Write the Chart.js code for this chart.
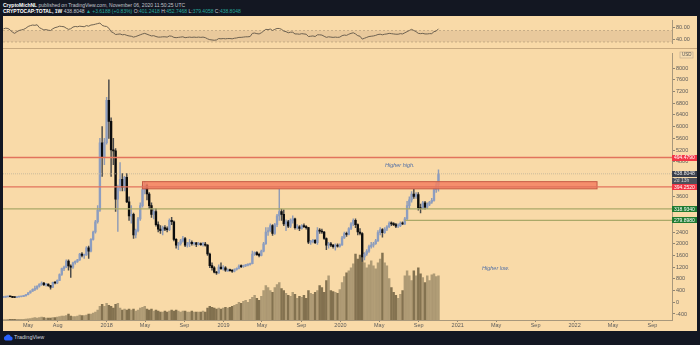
<!DOCTYPE html>
<html>
<head>
<meta charset="utf-8">
<title>CRYPTOCAP:TOTAL, 1W</title>
<script src="https://cdn.jsdelivr.net/npm/chart.js@4.4.1/dist/chart.umd.min.js"></script>
<style>
  body { margin: 0; width: 700px; height: 345px; background: #131722; position: relative; overflow: hidden; font-family: "Liberation Sans", Arial, sans-serif; }
  .hdr { position: absolute; left: 3px; font-size: 5px; line-height: 6px; color: #c3c6ce; white-space: nowrap; }
  .hdr b { color: #ffffff; }
  .up { color: #26a69a; }
  #pane { position: absolute; left: 3px; top: 16px; width: 694px; height: 315px; background: #f9daa8; }
  #rsiChart { position: absolute; left: 3px; top: 16px; }
  #sep { position: absolute; left: 3px; top: 48px; width: 694px; height: 1px; background: #c9ab80; }
  #mainChart { position: absolute; left: 3px; top: 49px; }
  #logo { position: absolute; left: 3px; top: 333px; font-size: 5.5px; line-height: 8px; color: #d1d4dc; display: flex; align-items: center; gap: 1px; }
</style>
</head>
<body>
<div class="hdr" style="top:2px"><b>CryptoMichNL</b> published on TradingView.com, November 06, 2020 11:50:25 UTC</div>
<div class="hdr" style="top:8px"><b>CRYPTOCAP:TOTAL, 1W</b> 438.8048 <span class="up">&#9650; +3.6188 (+0.83%)</span> O:<span class="up">401.2418</span> H:<span class="up">452.7468</span> L:<span class="up">379.4058</span> C:<span class="up">438.8048</span></div>
<div id="pane"></div>
<canvas id="rsiChart" width="694" height="32"></canvas>
<div id="sep"></div>
<canvas id="mainChart" width="694" height="282"></canvas>
<div id="logo"><svg width="10" height="7" viewBox="0 0 20 14"><path d="M5 13h10a4 4 0 0 0 .5-8 5.5 5.5 0 0 0-10.3-.8A4.6 4.6 0 0 0 5 13z" fill="#2962ff"/></svg><span>TradingView</span></div>
<script>
// weekly bars; x is counted in days from 1 Jan 2018, first bar is the week of 13 Feb 2017
const firstWeekDay = -322;

const opens = [
  17, 17.5, 18.5, 19.5, 19, 17, 16.5, 18, 19, 20,
  22, 26, 32, 38, 44, 47, 55, 62, 66, 60,
  62, 57, 52, 68, 66, 75, 95, 115, 120, 141,
  124, 120, 135, 140, 145, 165, 160, 162, 186, 175,
  215, 240, 275, 315, 545, 495, 545, 690, 618, 520,
  517, 352, 390, 420, 393, 427, 343, 295, 300, 230,
  245, 285, 330, 385, 400, 370, 330, 300, 310, 265,
  250, 245, 255, 250, 248, 280, 275, 215, 195, 200,
  210, 218, 195, 200, 205, 200, 203, 198, 200, 197,
  199, 195, 165, 125, 118, 103, 100, 120, 115, 118,
  110, 110, 108, 106, 112, 116, 124, 122, 125, 127,
  129, 132, 165, 170, 163, 160, 175, 200, 240, 245,
  262, 235, 265, 295, 310, 300, 268, 275, 260, 280,
  285, 255, 258, 252, 262, 258, 255, 205, 208, 212,
  204, 245, 243, 240, 218, 195, 200, 195, 190, 194,
  192, 196, 220, 235, 232, 252, 268, 280, 265, 240,
  235, 155, 165, 175, 190, 195, 200, 210, 238, 248,
  238, 250, 258, 270, 268, 265, 260, 262, 270, 268,
  285, 330, 350, 370, 362, 368, 322, 320, 340, 325,
  335, 342, 348, 385, 401.2418
];
const highs = [
  18, 19, 20, 20.5, 19.5, 18, 18.5, 19.5, 20.5, 22.5,
  26.5, 33, 39, 46, 55, 56, 63, 70, 68, 64,
  63, 58, 69, 71, 77, 97, 117, 124, 145, 145,
  128, 137, 142, 147, 167, 170, 165, 190, 192, 218,
  243, 280, 330, 560, 600, 560, 700, 760, 630, 560,
  525, 400, 477, 440, 430, 440, 360, 330, 305, 250,
  290, 340, 400, 412, 405, 375, 340, 320, 320, 275,
  262, 260, 262, 258, 285, 290, 278, 218, 205, 215,
  225, 222, 205, 215, 210, 205, 205, 205, 203, 205,
  205, 197, 168, 135, 122, 106, 128, 135, 125, 122,
  114, 113, 112, 114, 118, 128, 128, 127, 129, 131,
  134, 175, 172, 173, 168, 178, 205, 255, 255, 268,
  265, 270, 300, 386, 318, 316, 282, 280, 285, 295,
  288, 265, 262, 265, 268, 262, 256, 212, 215, 214,
  255, 252, 250, 242, 220, 205, 205, 198, 200, 200,
  200, 225, 240, 240, 255, 272, 285, 285, 268, 252,
  238, 170, 180, 195, 205, 205, 215, 245, 255, 252,
  255, 262, 275, 275, 272, 270, 268, 275, 275, 290,
  345, 360, 378, 386, 375, 375, 335, 345, 345, 340,
  345, 355, 390, 410, 452.7468
];
const lows = [
  16.5, 17, 18, 18.5, 15.5, 15.5, 16, 17.5, 18.5, 19.5,
  21.5, 25.5, 31, 37, 40, 44, 52, 58, 57, 55,
  54, 45, 50, 63, 64, 74, 92, 108, 118, 110,
  85, 116, 130, 136, 143, 155, 150, 160, 150, 172,
  212, 236, 270, 310, 430, 470, 540, 560, 430, 470,
  310, 242, 380, 380, 380, 340, 280, 270, 218, 220,
  240, 280, 325, 370, 350, 320, 290, 285, 260, 240,
  235, 230, 245, 240, 245, 265, 210, 185, 180, 195,
  205, 190, 188, 190, 195, 195, 190, 195, 194, 192,
  192, 160, 118, 110, 100, 95, 99, 112, 110, 105,
  106, 106, 102, 104, 110, 114, 118, 119, 122, 124,
  127, 131, 160, 160, 155, 158, 172, 198, 228, 240,
  228, 232, 258, 280, 280, 262, 245, 255, 255, 270,
  250, 250, 245, 250, 255, 250, 200, 198, 203, 200,
  198, 235, 235, 215, 180, 185, 190, 185, 178, 188,
  188, 194, 218, 225, 230, 248, 262, 255, 230, 230,
  140, 145, 160, 170, 185, 188, 198, 208, 230, 222,
  235, 245, 255, 262, 262, 255, 255, 258, 265, 265,
  280, 320, 342, 355, 355, 315, 305, 318, 318, 320,
  330, 338, 345, 375, 379.4058
];
const closes = [
  17.5, 18.5, 19.5, 19, 17, 16.5, 18, 19, 20, 22,
  26, 32, 38, 44, 47, 55, 62, 66, 60, 62,
  57, 52, 68, 66, 75, 95, 115, 120, 141, 124,
  120, 135, 140, 145, 165, 160, 162, 186, 175, 215,
  240, 275, 315, 545, 495, 545, 690, 618, 520, 517,
  352, 390, 420, 393, 427, 343, 295, 300, 230, 245,
  285, 330, 385, 400, 370, 330, 300, 310, 265, 250,
  245, 255, 250, 248, 280, 275, 215, 195, 200, 210,
  218, 195, 200, 205, 200, 203, 198, 200, 197, 199,
  195, 165, 125, 118, 103, 100, 120, 115, 118, 110,
  110, 108, 106, 112, 116, 124, 122, 125, 127, 129,
  132, 165, 170, 163, 160, 175, 200, 240, 245, 262,
  235, 265, 295, 310, 300, 268, 275, 260, 280, 285,
  255, 258, 252, 262, 258, 255, 205, 208, 212, 204,
  245, 243, 240, 218, 195, 200, 195, 190, 194, 192,
  196, 220, 235, 232, 252, 268, 280, 265, 240, 235,
  155, 165, 175, 190, 195, 200, 210, 238, 248, 238,
  250, 258, 270, 268, 265, 260, 262, 270, 268, 285,
  330, 350, 370, 362, 368, 322, 320, 340, 325, 335,
  342, 348, 385, 401.2418, 438.8048
];
const volumes = [
  0.5, 0.5, 0.6, 0.6, 0.7, 0.6, 0.6, 0.7, 0.8, 0.8,
  1, 1.2, 1.5, 2, 2.5, 2, 2.5, 3, 2.5, 2,
  2, 2, 2.5, 2.5, 3, 3.5, 4, 4, 4.5, 6,
  4, 3.5, 3.5, 4, 5, 4.5, 4.5, 5, 6, 6,
  7, 8, 10, 14, 16, 14, 17, 15, 14, 12,
  16, 17, 12, 10, 11, 10, 11, 10, 11, 9,
  10, 12, 13, 14, 11, 10, 11, 9, 10, 9,
  8, 8, 9, 8, 9, 10, 9, 10, 9, 8,
  9, 9, 8, 8, 9, 8, 8, 8, 8, 9,
  8, 12, 14, 13, 12, 11, 12, 11, 12, 13,
  12, 13, 14, 15, 16, 18, 17, 19, 20, 18,
  21, 23, 25, 22, 20, 24, 30, 35, 33, 30,
  28, 33, 36, 38, 32, 30, 27, 25, 24, 28,
  26, 22, 24, 23, 25, 22, 30, 27, 26, 28,
  30, 35, 33, 28, 40, 45, 30, 29, 28, 27,
  31, 38, 44, 48, 50, 53, 57, 67, 62, 66,
  68, 58, 53, 56, 60, 55, 52, 58, 62, 68,
  58, 55, 42, 33, 28, 25, 22, 26, 30, 45,
  50, 45, 40, 50, 45, 53, 47, 43, 38, 45,
  40, 46, 47, 44, 45
];
const rsi = [
  76, 78, 77, 72, 64, 60, 66, 70, 72, 74,
  78, 84, 87, 89, 88, 90, 80, 76, 72, 73,
  71, 70, 76, 80, 82, 85, 84, 83, 78, 74,
  76, 82, 84, 83, 85, 84, 83, 87, 85, 89,
  90, 92, 94, 96, 88, 85, 84, 78, 66, 62,
  56, 57, 58, 55, 56, 53, 51, 50, 47, 49,
  52, 55, 58, 60, 57, 54, 51, 52, 49, 47,
  47, 48, 48, 47, 51, 50, 46, 45, 46, 47,
  48, 45, 46, 47, 46, 47, 46, 47, 46, 47,
  45, 41, 38, 37, 36, 37, 42, 41, 42, 41,
  42, 42, 41, 43, 44, 46, 46, 47, 48, 48,
  49, 60, 61, 59, 58, 62, 68, 74, 73, 75,
  70, 74, 77, 77, 74, 68, 66, 62, 64, 64,
  58, 58, 57, 59, 58, 57, 49, 50, 51, 49,
  55, 55, 54, 50, 46, 48, 47, 46, 47, 46,
  47, 52, 54, 53, 57, 60, 62, 58, 52, 50,
  40, 43, 46, 49, 50, 51, 53, 56, 57, 55,
  57, 58, 60, 59, 58, 57, 57, 59, 58, 62,
  66, 70, 74, 70, 66, 60, 59, 60, 58, 58,
  59, 59, 66, 68, 76
];

const xTickDays = [-245, -153, 0, 120, 243, 365, 485, 608, 730, 851, 974, 1096, 1216, 1339, 1461, 1581, 1704];
const xTickLabels = ['May', 'Aug', '2018', 'May', 'Sep', '2019', 'May', 'Sep', '2020', 'May', 'Sep', '2021', 'May', 'Sep', '2022', 'May', 'Sep'];
const yTickValues = [800, 760, 720, 680, 640, 600, 560, 520, 480, 440, 400, 360, 320, 280, 240, 200, 160, 120, 80, 40, 0, -40];
const yTickLabels = ['8000', '7600', '7200', '6800', '6400', '6000', '5600', '5200', '4800', '4400', '4000', '3600', '3200', '2800', '2400', '2000', '1600', '1200', '800', '400', '0', '-400'];
const rsiTickValues = [80, 40];
const rsiTickLabels = ['80.00', '40.00'];
const rsiBand = [30, 70];

// drawn levels and the resistance zone
const levelValues = [494.479, 394.252, 318.934, 279.898];
const levelLabels = ['494.4790', '394.2520', '318.9340', '279.8980'];
const levelFromDay = [null, null, null, 931];
const lastPrice = 438.8048;
const lastPriceLabel = '438.8048';
const barCountdown = '2d 13h';
const zonePrices = [387.5, 412];
const zoneDays = [112, 1531];

const xMin = -323.5, xMax = 1765;
const yMin = -60.5, yMax = 850.4;
const fontFamily = '"Liberation Sans", Arial, sans-serif';
Chart.defaults.font.family = fontFamily;

const xs = closes.map((c, i) => firstWeekDay + 7 * i);
const isUp = closes.map((c, i) => c >= opens[i]);

// RSI pane ------------------------------------------------------------
const rsiBandPlugin = {
  id: 'rsiBand',
  beforeDatasetsDraw(chart) {
    const { ctx, chartArea: a, scales: { y } } = chart;
    const top = y.getPixelForValue(rsiBand[1]);
    const bot = y.getPixelForValue(rsiBand[0]);
    ctx.save();
    ctx.fillStyle = '#e9c99c';
    ctx.fillRect(a.left, top, a.right - a.left, bot - top);
    ctx.strokeStyle = '#b59d7b';
    ctx.lineWidth = 0.7;
    ctx.setLineDash([2, 2]);
    [top, bot].forEach(py => {
      ctx.beginPath();
      ctx.moveTo(a.left, py);
      ctx.lineTo(a.right, py);
      ctx.stroke();
    });
    ctx.restore();
  }
};

new Chart(document.getElementById('rsiChart'), {
  type: 'line',
  data: {
    datasets: [{
      data: rsi.map((v, i) => ({ x: xs[i], y: v })),
      borderColor: '#6e6251',
      borderWidth: 1,
      pointRadius: 0,
      tension: 0
    }]
  },
  options: {
    responsive: false,
    animation: false,
    events: [],
    layout: { padding: 0 },
    plugins: { legend: { display: false }, tooltip: { enabled: false } },
    scales: {
      x: { type: 'linear', display: false, min: xMin, max: xMax },
      y: {
        position: 'right',
        min: 24,
        max: 105.5,
        grid: { drawOnChartArea: false, tickLength: 3, color: '#8f8470' },
        border: { display: true, color: '#a8987c' },
        ticks: {
          padding: 1,
          color: '#5a5a5a',
          font: { size: 5.5 },
          callback: (v, i) => rsiTickLabels[i]
        },
        afterBuildTicks: s => { s.ticks = rsiTickValues.map(v => ({ value: v })); },
        afterFit: s => { s.width = 25; }
      }
    }
  },
  plugins: [rsiBandPlugin]
});

// Price pane ----------------------------------------------------------
function tag(ctx, left, cy, text, bg, fg) {
  ctx.fillStyle = bg;
  ctx.fillRect(left, Math.round(cy - 3), 25, 6);
  ctx.fillStyle = fg;
  ctx.font = '5px ' + fontFamily;
  ctx.textBaseline = 'middle';
  ctx.textAlign = 'left';
  ctx.fillText(text, left + 2, cy + 0.3);
}

const overlayPlugin = {
  id: 'overlay',
  afterDatasetsDraw(chart) {
    const { ctx, chartArea: a, scales: { x, y } } = chart;
    ctx.save();
    ctx.beginPath();
    ctx.rect(a.left, a.top, a.right - a.left, a.bottom - a.top);
    ctx.clip();

    // last price line
    const lp = y.getPixelForValue(lastPrice);
    ctx.strokeStyle = '#bfb19a';
    ctx.lineWidth = 0.8;
    ctx.setLineDash([1, 1]);
    ctx.beginPath();
    ctx.moveTo(a.left, lp);
    ctx.lineTo(a.right, lp);
    ctx.stroke();
    ctx.setLineDash([]);

    // resistance zone
    const zx1 = x.getPixelForValue(zoneDays[0]);
    const zx2 = x.getPixelForValue(zoneDays[1]);
    const zy1 = y.getPixelForValue(zonePrices[1]);
    const zy2 = y.getPixelForValue(zonePrices[0]);
    ctx.fillStyle = 'rgba(244,128,98,0.85)';
    ctx.fillRect(zx1, zy1, zx2 - zx1, zy2 - zy1);
    ctx.strokeStyle = '#c45a44';
    ctx.lineWidth = 1;
    ctx.strokeRect(zx1, zy1, zx2 - zx1, zy2 - zy1);

    // horizontal levels
    levelValues.forEach((v, i) => {
      const py = y.getPixelForValue(v);
      const px = levelFromDay[i] === null ? a.left : x.getPixelForValue(levelFromDay[i]);
      ctx.strokeStyle = i < 2 ? '#e2735c' : '#aaa868';
      ctx.lineWidth = 1.4;
      ctx.beginPath();
      ctx.moveTo(px, py);
      ctx.lineTo(a.right, py);
      ctx.stroke();
    });

    // notes
    ctx.font = 'italic 5.5px ' + fontFamily;
    ctx.fillStyle = '#4f6ea6';
    ctx.textBaseline = 'middle';
    ctx.fillText('Higher high.', x.getPixelForValue(869), y.getPixelForValue(467));
    ctx.fillText('Higher low.', x.getPixelForValue(1172), y.getPixelForValue(117));
    ctx.restore();
  },
  afterDraw(chart) {
    const { ctx, chartArea: a, scales: { y } } = chart;
    ctx.save();
    // currency box at the top of the axis
    ctx.fillStyle = '#f6dcb0';
    ctx.strokeStyle = '#b8a58a';
    ctx.lineWidth = 0.6;
    ctx.fillRect(a.right + 8, 3, 13, 6);
    ctx.strokeRect(a.right + 8, 3, 13, 6);
    ctx.fillStyle = '#555';
    ctx.font = '4.5px ' + fontFamily;
    ctx.textBaseline = 'middle';
    ctx.fillText('USD', a.right + 10, 6.2);

    tag(ctx, a.right, y.getPixelForValue(levelValues[0]), levelLabels[0], '#f23645', '#fff');
    const lp = y.getPixelForValue(lastPrice);
    tag(ctx, a.right, lp, lastPriceLabel, '#3b3f4c', '#e6e6e6');
    tag(ctx, a.right, lp + 7, barCountdown, '#4d505a', '#d5d5d5');
    tag(ctx, a.right, y.getPixelForValue(levelValues[1]), levelLabels[1], '#f23645', '#fff');
    tag(ctx, a.right, y.getPixelForValue(levelValues[2]), levelLabels[2], '#1e7b31', '#fff');
    tag(ctx, a.right, y.getPixelForValue(levelValues[3]), levelLabels[3], '#1e7b31', '#fff');
    ctx.restore();
  }
};

const upBody = '#8c9dc0', downBody = '#0c0c0c';
const upWick = '#909cb6', downWick = '#4a4a4a';
const upVol = 'rgba(150,133,100,0.75)', downVol = 'rgba(110,95,65,0.85)';

new Chart(document.getElementById('mainChart'), {
  type: 'bar',
  data: {
    datasets: [
      {
        label: 'Volume',
        yAxisID: 'yv',
        data: volumes.map((v, i) => ({ x: xs[i], y: v })),
        backgroundColor: isUp.map(u => u ? upVol : downVol),
        barThickness: 1.8,
        grouped: false,
        order: 3
      },
      {
        label: 'Wicks',
        yAxisID: 'y',
        data: highs.map((h, i) => ({ x: xs[i], y: [lows[i], h] })),
        backgroundColor: isUp.map(u => u ? upWick : downWick),
        barThickness: 0.8,
        grouped: false,
        order: 2
      },
      {
        label: 'Bodies',
        yAxisID: 'y',
        data: closes.map((c, i) => ({ x: xs[i], y: [opens[i], c] })),
        backgroundColor: isUp.map(u => u ? upBody : downBody),
        barThickness: 1.7,
        minBarLength: 1,
        grouped: false,
        order: 1
      }
    ]
  },
  options: {
    responsive: false,
    animation: false,
    events: [],
    layout: { padding: 0 },
    plugins: { legend: { display: false }, tooltip: { enabled: false } },
    scales: {
      x: {
        type: 'linear',
        min: xMin,
        max: xMax,
        offset: false,
        grid: { offset: false, drawOnChartArea: false, tickLength: 2, color: '#8f8470' },
        border: { display: true, color: '#a8987c' },
        ticks: {
          autoSkip: false,
          maxRotation: 0,
          padding: 0,
          color: '#5a5a5a',
          font: { size: 5.5 },
          callback: (v, i) => xTickLabels[i]
        },
        afterBuildTicks: s => { s.ticks = xTickDays.map(v => ({ value: v })); },
        afterFit: s => { s.height = 11; }
      },
      y: {
        position: 'right',
        min: yMin,
        max: yMax,
        grid: { drawOnChartArea: false, tickLength: 3, color: '#8f8470' },
        border: { display: true, color: '#a8987c' },
        ticks: {
          padding: 1,
          color: '#5a5a5a',
          font: { size: 5.5 },
          callback: (v, i) => yTickLabels[i]
        },
        afterBuildTicks: s => { s.ticks = yTickValues.map(v => ({ value: v })); },
        afterFit: s => { s.width = 25; }
      },
      yv: { display: false, min: 0, max: 271 }
    }
  },
  plugins: [overlayPlugin]
});
</script>
</body>
</html>
